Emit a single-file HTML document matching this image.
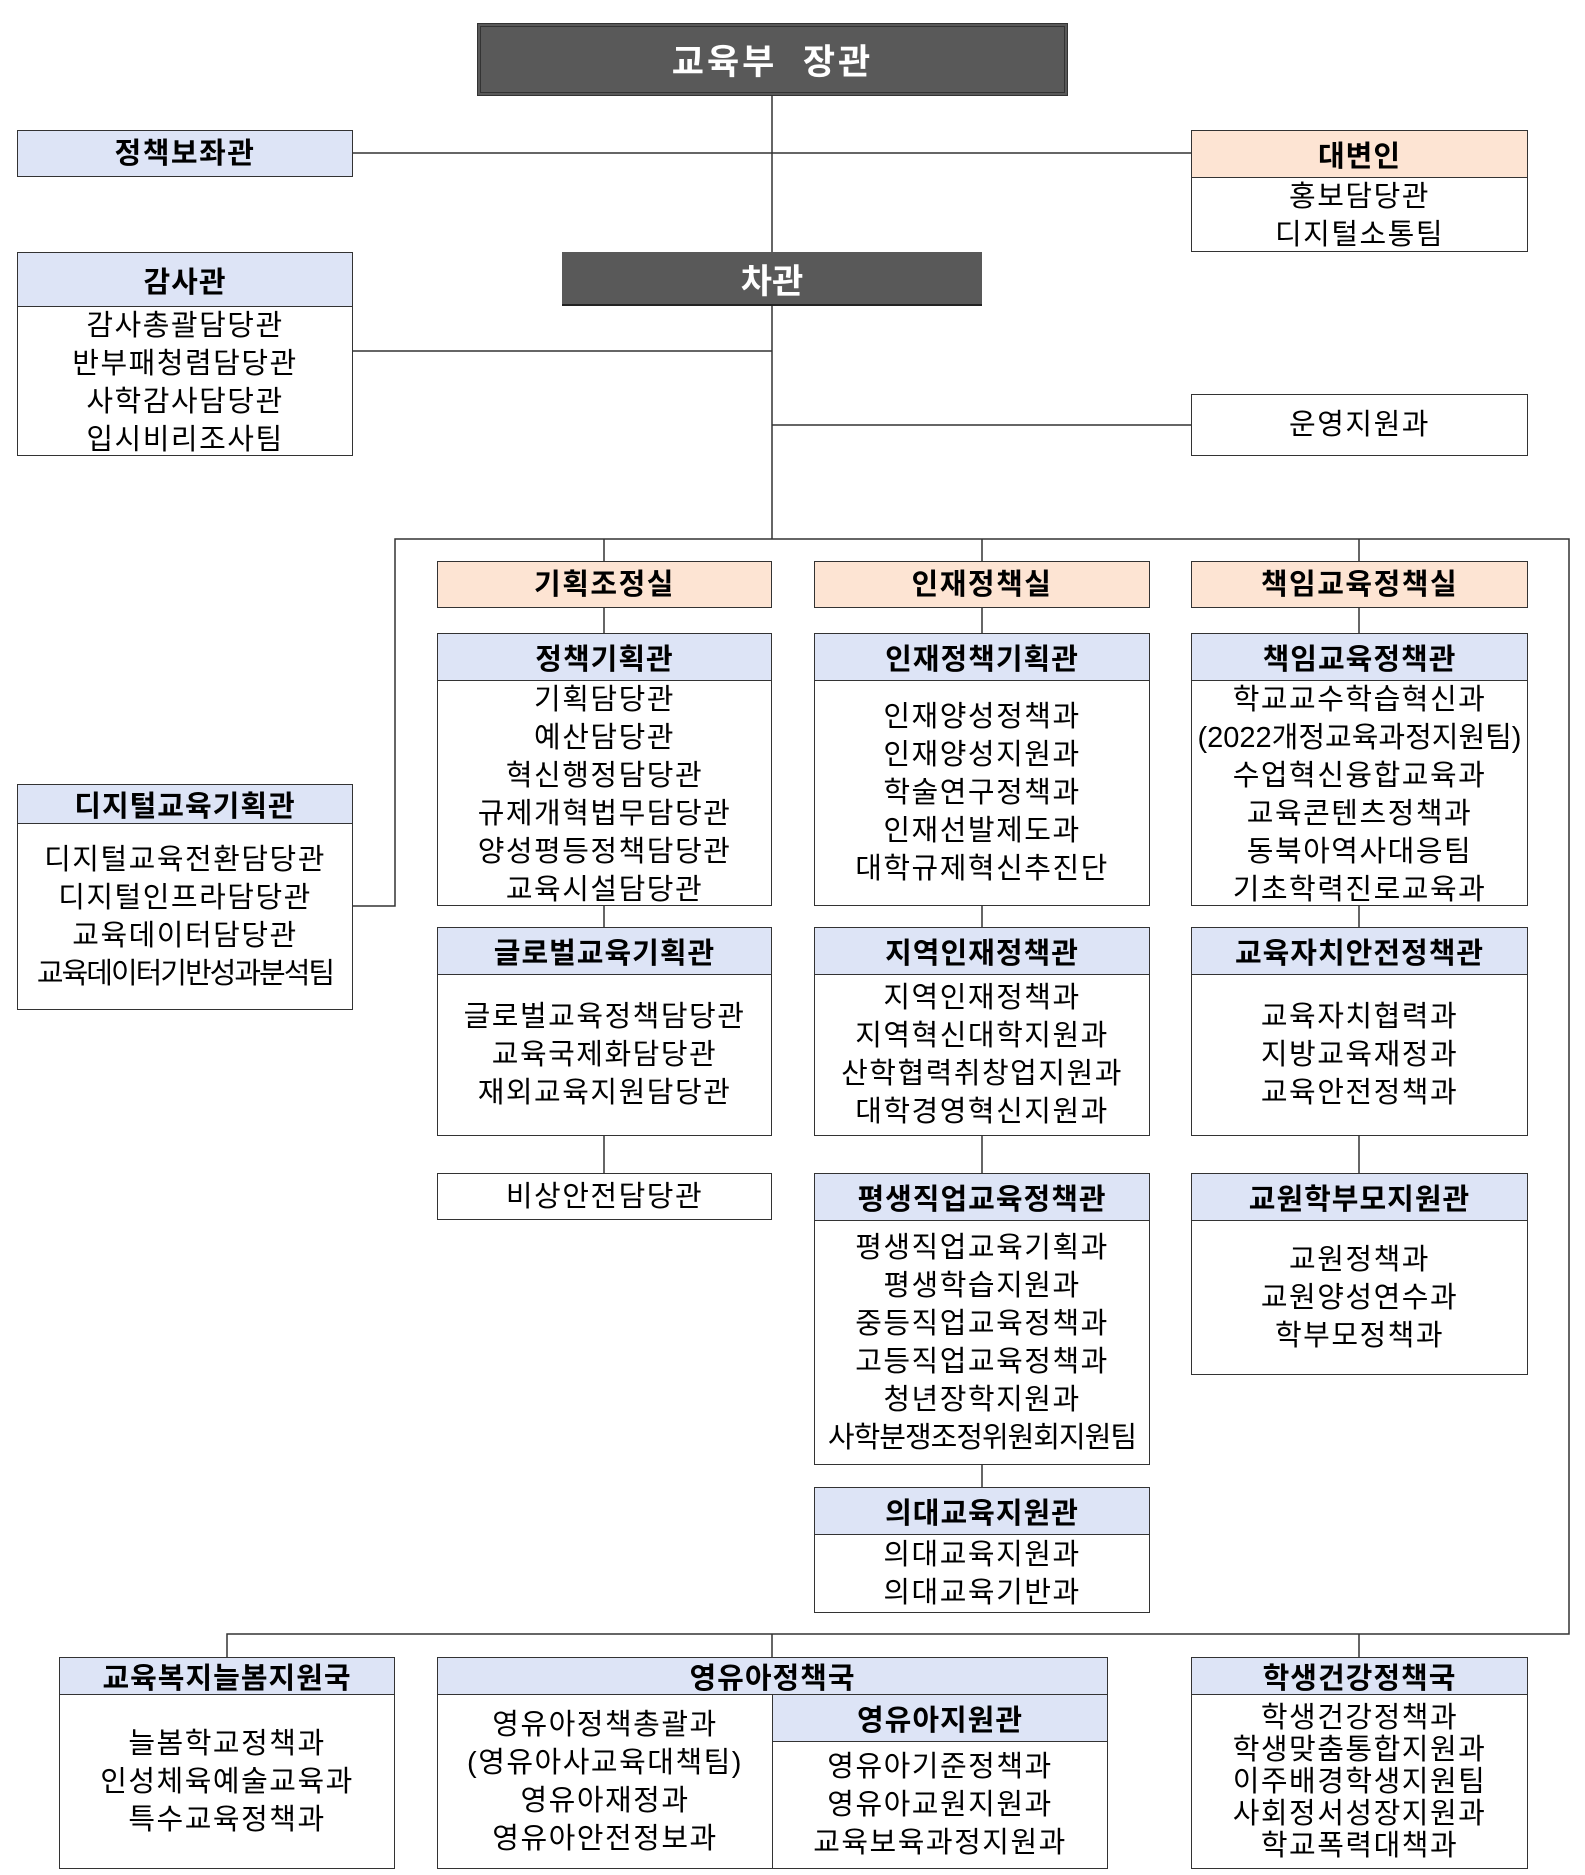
<!DOCTYPE html>
<html><head><meta charset="utf-8">
<style>
*{margin:0;padding:0;box-sizing:border-box}
body{width:1585px;height:1875px;background:#fff;position:relative;overflow:hidden;font-family:"Liberation Sans","Noto Sans CJK KR",sans-serif;color:#000}
.b{position:absolute;border:1.5px solid #333;background:#fff;display:flex;flex-direction:column}
.h{border-bottom:1.5px solid #333;display:flex;align-items:center;justify-content:center;font-weight:bold;font-size:29px;letter-spacing:1px;white-space:nowrap;flex:none}
.blue{background:#dde4f6}
.peach{background:#fde4d3}
.bd{flex:1;display:flex;flex-direction:column;align-items:center;justify-content:center;font-size:29px;letter-spacing:1.5px;line-height:38px;white-space:nowrap}
.dark{position:absolute;background:#595959;color:#fff;font-weight:bold;display:flex;align-items:center;justify-content:center}
svg{position:absolute;left:0;top:0}
</style></head><body>
<svg width="1585" height="1875">
<g stroke="#333" stroke-width="1.5" fill="none">
<line x1="772" y1="96" x2="772" y2="539"/>
<line x1="353" y1="153" x2="1191" y2="153"/>
<line x1="353" y1="351" x2="772" y2="351"/>
<line x1="772" y1="425" x2="1191" y2="425"/>
<polyline points="353,906 395,906 395,539 1569,539 1569,1634 227,1634 227,1657"/>
<line x1="604" y1="539" x2="604" y2="1173"/>
<line x1="982" y1="539" x2="982" y2="1487"/>
<line x1="1359" y1="539" x2="1359" y2="1173"/>
<line x1="772" y1="1634" x2="772" y2="1657"/>
<line x1="1359" y1="1634" x2="1359" y2="1657"/>
</g></svg>

<div class="dark" style="left:477px;top:23px;width:591px;height:73px;font-size:35px;border:4px double #333;letter-spacing:3px">교육부&nbsp; 장관</div>
<div class="dark" style="left:562px;top:252px;width:420px;height:54px;font-size:34px;border-bottom:2px solid #222">차관</div>

<div class="b blue" style="left:17px;top:130px;width:336px;height:47px"><div class="bd" style="font-weight:bold">정책보좌관</div></div>

<div class="b" style="left:1191px;top:130px;width:337px;height:122px"><div class="h peach" style="height:47px">대변인</div><div class="bd"><div>홍보담당관</div><div>디지털소통팀</div></div></div>

<div class="b" style="left:17px;top:252px;width:336px;height:204px"><div class="h blue" style="height:54px">감사관</div><div class="bd"><div>감사총괄담당관</div><div>반부패청렴담당관</div><div>사학감사담당관</div><div>입시비리조사팀</div></div></div>

<div class="b" style="left:1191px;top:394px;width:337px;height:62px"><div class="bd">운영지원과</div></div>

<div class="b" style="left:17px;top:784px;width:336px;height:226px"><div class="h blue" style="height:39px">디지털교육기획관</div><div class="bd"><div>디지털교육전환담당관</div><div>디지털인프라담당관</div><div>교육데이터담당관</div><div style="letter-spacing:-2px">교육데이터기반성과분석팀</div></div></div>

<div class="b peach" style="left:437px;top:561px;width:335px;height:47px"><div class="bd" style="font-weight:bold">기획조정실</div></div>
<div class="b" style="left:437px;top:633px;width:335px;height:273px"><div class="h blue" style="height:47px">정책기획관</div><div class="bd"><div>기획담당관</div><div>예산담당관</div><div>혁신행정담당관</div><div>규제개혁법무담당관</div><div>양성평등정책담당관</div><div>교육시설담당관</div></div></div>
<div class="b" style="left:437px;top:927px;width:335px;height:209px"><div class="h blue" style="height:47px">글로벌교육기획관</div><div class="bd"><div>글로벌교육정책담당관</div><div>교육국제화담당관</div><div>재외교육지원담당관</div></div></div>
<div class="b" style="left:437px;top:1173px;width:335px;height:47px"><div class="bd">비상안전담당관</div></div>

<div class="b peach" style="left:814px;top:561px;width:336px;height:47px"><div class="bd" style="font-weight:bold">인재정책실</div></div>
<div class="b" style="left:814px;top:633px;width:336px;height:273px"><div class="h blue" style="height:47px">인재정책기획관</div><div class="bd"><div>인재양성정책과</div><div>인재양성지원과</div><div>학술연구정책과</div><div>인재선발제도과</div><div>대학규제혁신추진단</div></div></div>
<div class="b" style="left:814px;top:927px;width:336px;height:209px"><div class="h blue" style="height:47px">지역인재정책관</div><div class="bd"><div>지역인재정책과</div><div>지역혁신대학지원과</div><div>산학협력취창업지원과</div><div>대학경영혁신지원과</div></div></div>
<div class="b" style="left:814px;top:1173px;width:336px;height:292px"><div class="h blue" style="height:47px">평생직업교육정책관</div><div class="bd"><div>평생직업교육기획과</div><div>평생학습지원과</div><div>중등직업교육정책과</div><div>고등직업교육정책과</div><div>청년장학지원과</div><div style="letter-spacing:-1px">사학분쟁조정위원회지원팀</div></div></div>
<div class="b" style="left:814px;top:1487px;width:336px;height:126px"><div class="h blue" style="height:47px">의대교육지원관</div><div class="bd"><div>의대교육지원과</div><div>의대교육기반과</div></div></div>

<div class="b peach" style="left:1191px;top:561px;width:337px;height:47px"><div class="bd" style="font-weight:bold">책임교육정책실</div></div>
<div class="b" style="left:1191px;top:633px;width:337px;height:273px"><div class="h blue" style="height:47px">책임교육정책관</div><div class="bd"><div>학교교수학습혁신과</div><div style="letter-spacing:0px">(2022개정교육과정지원팀)</div><div>수업혁신융합교육과</div><div>교육콘텐츠정책과</div><div>동북아역사대응팀</div><div>기초학력진로교육과</div></div></div>
<div class="b" style="left:1191px;top:927px;width:337px;height:209px"><div class="h blue" style="height:47px">교육자치안전정책관</div><div class="bd"><div>교육자치협력과</div><div>지방교육재정과</div><div>교육안전정책과</div></div></div>
<div class="b" style="left:1191px;top:1173px;width:337px;height:202px"><div class="h blue" style="height:47px">교원학부모지원관</div><div class="bd"><div>교원정책과</div><div>교원양성연수과</div><div>학부모정책과</div></div></div>

<div class="b" style="left:59px;top:1657px;width:336px;height:212px"><div class="h blue" style="height:37px">교육복지늘봄지원국</div><div class="bd"><div>늘봄학교정책과</div><div>인성체육예술교육과</div><div>특수교육정책과</div></div></div>

<div class="b" style="left:437px;top:1657px;width:671px;height:212px"><div class="h blue" style="height:37px">영유아정책국</div>
<div style="flex:1;display:flex">
<div class="bd" style="width:335px;border-right:1.5px solid #333"><div>영유아정책총괄과</div><div>(영유아사교육대책팀)</div><div>영유아재정과</div><div>영유아안전정보과</div></div>
<div style="flex:1;display:flex;flex-direction:column"><div class="h blue" style="height:47px">영유아지원관</div><div class="bd"><div>영유아기준정책과</div><div>영유아교원지원과</div><div>교육보육과정지원과</div></div></div>
</div></div>

<div class="b" style="left:1191px;top:1657px;width:337px;height:212px"><div class="h blue" style="height:37px">학생건강정책국</div><div class="bd" style="line-height:32px"><div>학생건강정책과</div><div>학생맞춤통합지원과</div><div>이주배경학생지원팀</div><div>사회정서성장지원과</div><div>학교폭력대책과</div></div></div>
</body></html>
